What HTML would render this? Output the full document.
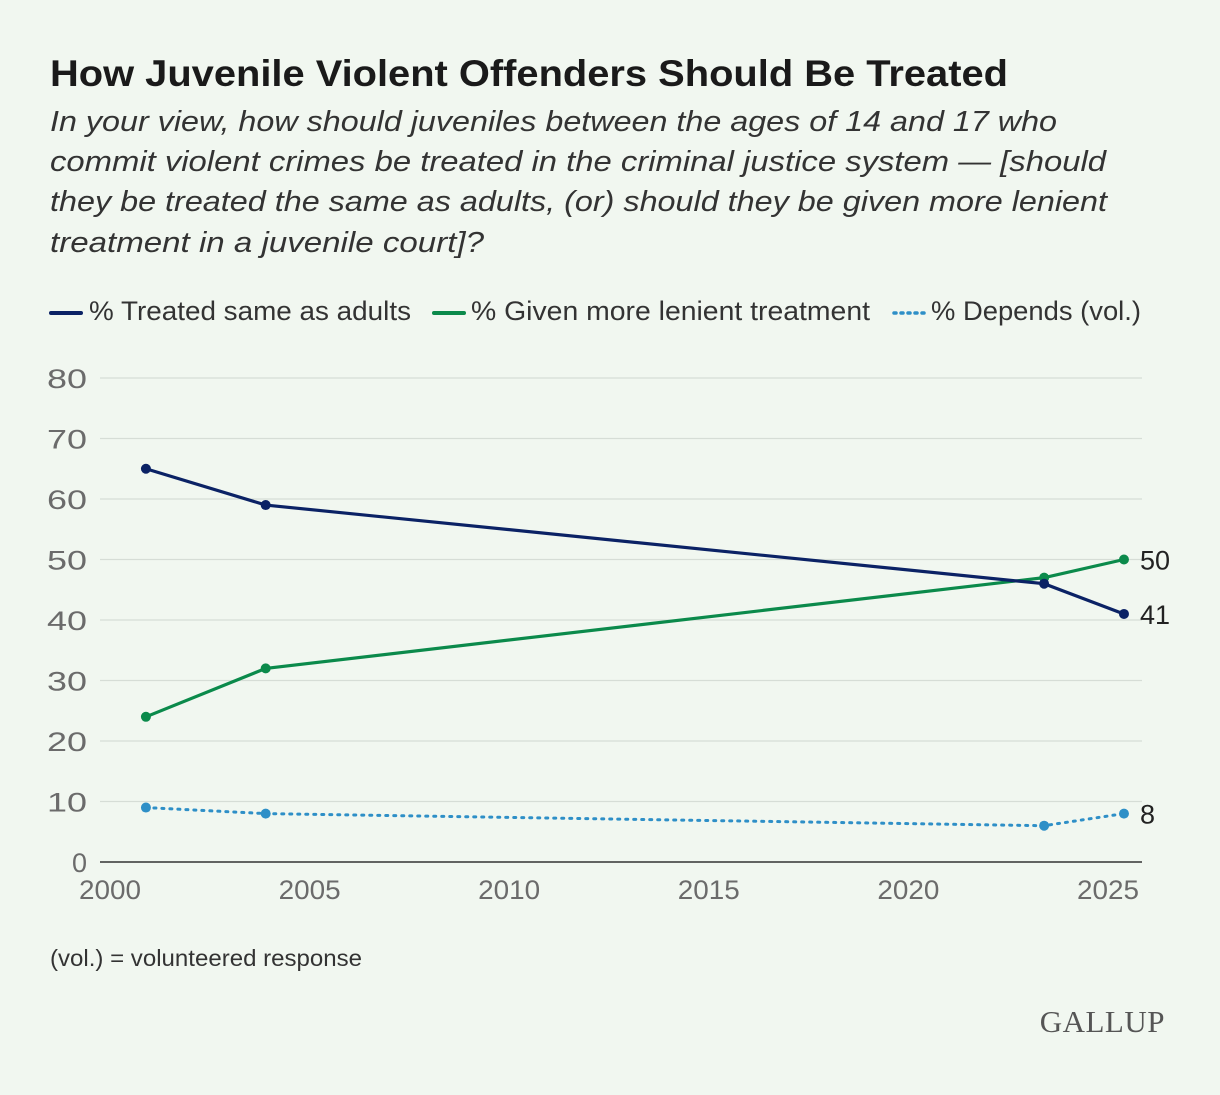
<!DOCTYPE html>
<html><head><meta charset="utf-8"><style>
html,body{margin:0;padding:0;background:#f1f7f0;}
body{width:1220px;height:1090px;overflow:hidden;font-family:"Liberation Sans",sans-serif;}
</style></head><body>
<svg width="1220" height="1090" xmlns="http://www.w3.org/2000/svg">
<rect width="1220" height="1090" fill="#f1f7f0"/>
<text x="50" y="86" font-size="37" font-weight="bold" fill="#1a1a1a" textLength="958" lengthAdjust="spacingAndGlyphs">How Juvenile Violent Offenders Should Be Treated</text>
<g font-size="29" font-style="italic" fill="#333">
<text x="50" y="131" textLength="1007" lengthAdjust="spacingAndGlyphs">In your view, how should juveniles between the ages of 14 and 17 who</text>
<text x="50" y="171" textLength="1056" lengthAdjust="spacingAndGlyphs">commit violent crimes be treated in the criminal justice system — [should</text>
<text x="50" y="211" textLength="1057" lengthAdjust="spacingAndGlyphs">they be treated the same as adults, (or) should they be given more lenient</text>
<text x="50" y="252" textLength="434" lengthAdjust="spacingAndGlyphs">treatment in a juvenile court]?</text>
</g>
<g font-size="27" fill="#333">
<line x1="51" y1="313" x2="81" y2="313" stroke="#0b2265" stroke-width="4" stroke-linecap="round"/>
<text x="89" y="320" textLength="322" lengthAdjust="spacingAndGlyphs">% Treated same as adults</text>
<line x1="434" y1="313" x2="464" y2="313" stroke="#0b8a4b" stroke-width="4" stroke-linecap="round"/>
<text x="471" y="320" textLength="399" lengthAdjust="spacingAndGlyphs">% Given more lenient treatment</text>
<line x1="894" y1="313" x2="924" y2="313" stroke="#2e8fc7" stroke-width="3.5" stroke-dasharray="2 5" stroke-linecap="round"/>
<text x="931" y="320" textLength="210" lengthAdjust="spacingAndGlyphs">% Depends (vol.)</text>
</g>
<g id="plot"></g>
<text x="50" y="966" font-size="23" fill="#333" textLength="312" lengthAdjust="spacingAndGlyphs">(vol.) = volunteered response</text>
<text x="1165" y="1032" font-size="31" font-family="Liberation Serif,serif" fill="#555" text-anchor="end" letter-spacing="0.5">GALLUP</text>
</svg>
<script>
const years=[2000.9,2003.9,2023.4,2025.4];
const adults=[65,59,46,41];
const lenient=[24,32,47,50];
const depends=[9,8,6,8];
const yTicks=[0,10,20,30,40,50,60,70,80];
const xTicks=[2000,2005,2010,2015,2020,2025];
const NS="http://www.w3.org/2000/svg";
const g=document.getElementById('plot');
const X=v=>110+(v-2000)*39.92;
const Y=v=>862-v*6.05;
function el(t,a){const e=document.createElementNS(NS,t);for(const k in a)e.setAttribute(k,a[k]);g.appendChild(e);return e;}
yTicks.forEach(t=>{
 const l=el('line',{x1:100,x2:1142,y1:Y(t),y2:Y(t),stroke:t===0?'#333':'#d6ddd6','stroke-width':t===0?1.5:1.2});
 
 
 const s=String(t);
 const a={x:87,y:Y(t)+10,'font-size':27,fill:'#6b6b6b','text-anchor':'end'};
 if(s.length===2){a.textLength=40;a.lengthAdjust='spacingAndGlyphs';}
 const tx=el('text',a);
 tx.textContent=s;
 
 
});
xTicks.forEach(t=>{
 const tx=el('text',{x:X(t),y:899,'font-size':27,fill:'#6b6b6b','text-anchor':'middle',textLength:62,lengthAdjust:'spacingAndGlyphs'});
 tx.textContent=t;
 
 
});
function series(vals,color,name,dash){
 const p=el('polyline',{points:vals.map((v,i)=>X(years[i])+','+Y(v)).join(' '),fill:'none',stroke:color,'stroke-width':dash?3:3.2,'stroke-dasharray':dash?'2 6':'none','stroke-linecap':'round'});
 
 
 vals.forEach((v,i)=>{
  const c=el('circle',{cx:X(years[i]),cy:Y(v),r:5,fill:color});
  
  
 });
 const last=vals[vals.length-1];
 const t=el('text',{x:X(years[years.length-1])+16,y:Y(last)+10,'font-size':27,fill:'#222'});
 t.textContent=last;
 
 
}
series(depends,'#2e8fc7','depends',true);
series(lenient,'#0b8a4b','lenient',false);
series(adults,'#0b2265','adults',false);
</script>
</body></html>
